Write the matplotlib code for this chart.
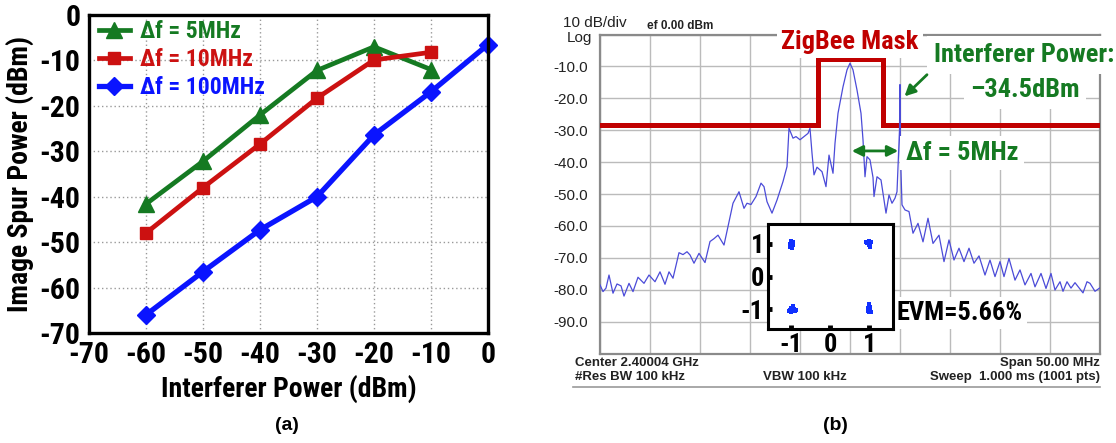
import numpy as np
import matplotlib
matplotlib.use("Agg")
import matplotlib.pyplot as plt
from matplotlib import font_manager

# ---- panel (a) data ----
pin = [-60, -50, -40, -30, -20, -10, 0]
spur_5mhz = [-41.6, -32.2, -22.0, -12.2, -7.0, -12.0]
spur_10mhz = [-48.0, -38.0, -28.4, -18.3, -9.9, -8.2]
spur_100mhz = [-66.0, -56.5, -47.3, -40.0, -26.4, -16.9, -6.5]

# ---- panel (b) data: spectrum trace (MHz offset, dBm) ----
freq_mhz = [-25.0, -24.7, -24.4, -24.1, -23.7, -23.3, -22.9, -22.6, -22.1, -21.7,
            -21.2, -20.6, -20.1, -19.5, -19.0, -18.5, -18.1, -17.7, -17.1, -16.7,
            -16.3, -16.0, -15.6, -15.1, -14.5, -14.0, -13.6, -13.2, -12.6, -12.2,
            -11.7, -11.1, -10.6, -10.3, -9.9, -9.4, -8.9, -8.6, -8.3, -7.8,
            -7.3, -6.7, -6.3, -6.1, -5.7, -5.4, -5.0, -4.6, -4.2, -4.0,
            -3.8, -3.6, -3.3, -2.8, -2.4, -2.1, -1.7, -1.5, -1.2, -0.7,
            -0.3, 0.0, 0.3, 0.7, 1.1, 1.3, 1.5, 1.7, 2.0, 2.3,
            2.4, 2.7, 3.1, 3.6, 3.9, 4.2, 4.5, 4.7, 4.95, 5.0,
            5.05, 5.2, 5.5, 5.9, 6.3, 6.8, 7.3, 7.8, 8.3, 8.9,
            9.4, 9.9, 10.4, 10.9, 11.4, 11.9, 12.4, 12.9, 13.5, 14.0,
            14.5, 15.0, 15.4, 15.9, 16.5, 17.0, 17.5, 18.1, 18.5, 19.1,
            19.6, 20.1, 20.5, 21.0, 21.3, 21.7, 22.1, 22.5, 22.8, 23.3,
            23.7, 24.0, 24.5, 25.0]
level_dbm = [-78.5, -80.6, -79.5, -75.4, -81.1, -78.2, -78.8, -82.0, -78.0, -80.6,
             -76.1, -78.0, -75.4, -77.5, -74.4, -78.3, -74.4, -76.4, -68.4, -69.0,
             -68.1, -69.1, -71.7, -68.6, -71.5, -64.9, -64.0, -62.9, -66.0, -60.2,
             -52.9, -49.3, -54.5, -52.9, -53.3, -50.8, -46.6, -47.7, -52.4, -56.0,
             -51.9, -46.1, -41.4, -29.4, -32.5, -32.0, -33.0, -32.0, -31.0, -29.4,
             -37.2, -44.0, -41.6, -43.0, -47.7, -37.8, -43.5, -34.1, -24.7, -16.4,
             -11.1, -9.0, -11.1, -17.4, -24.7, -33.0, -44.6, -38.3, -39.3, -44.8,
             -50.8, -44.6, -45.6, -56.0, -50.3, -52.9, -51.3, -49.3, -30.0, -15.7,
             -38.0, -53.4, -55.0, -55.5, -62.3, -59.2, -65.0, -57.6, -65.5, -62.9,
             -71.2, -64.4, -70.7, -67.0, -71.2, -67.0, -71.7, -69.4, -75.4, -70.7,
             -75.9, -71.2, -75.9, -70.2, -77.0, -73.8, -78.5, -74.9, -79.1, -74.9,
             -79.6, -74.9, -80.1, -77.5, -80.5, -77.5, -79.5, -77.8, -79.0, -81.0,
             -77.5, -78.0, -80.5, -79.4]
mask_x = [-25, -3.2, -3.2, 3.25, 3.25, 25]
mask_y = [-28.4, -28.4, -7.8, -7.8, -28.4, -28.4]
ytick_labels = ['', '-90.0', '-80.0', '-70.0', '-60.0', '-50.0',
                '-40.0', '-30.0', '-20.0', '-10.0', '']

# QPSK constellation points (I, Q)
const_i = [-1.02, -0.98, -1.0, -1.03, -0.97, -1.01, -0.99, -1.04, -0.96, -1.0,
           0.97, 1.0, 1.03, 0.95, 1.01, 0.99, 1.04, 0.93, 1.0, 1.02,
           -1.03, -1.0, -0.97, -0.94, -0.9, -1.01, -0.98, -0.95, -1.05, -0.88,
           0.99, 1.01, 0.97, 1.03, 1.0, 0.98, 1.02, 1.0, 0.96, 1.04]
const_q = [1.06, 1.02, 0.95, 0.9, 0.98, 1.1, 0.88, 1.0, 1.07, 1.04,
           1.04, 1.08, 1.0, 1.02, 0.94, 1.1, 1.06, 1.05, 0.98, 0.92,
           -1.02, -0.95, -0.9, -1.0, -1.04, -1.08, -1.05, -0.98, -1.06, -1.03,
           -1.08, -1.02, -0.95, -1.0, -0.9, -1.05, -0.93, -0.85, -1.04, -1.07]

W, H = 1116, 443
names = {f.name for f in font_manager.fontManager.ttflist}
bold_font = 'Liberation Sans'
k = 0.86
for cand in ['Roboto Condensed', 'Archivo Narrow', 'PT Sans Narrow']:
    if cand in names:
        bold_font = cand
        k = 1.0
        break
plain = ['Liberation Sans', 'DejaVu Sans']
plt.rcParams['font.family'] = [bold_font, 'DejaVu Sans']
plt.rcParams['axes.unicode_minus'] = False

green = '#157a22'
red = '#cc1111'
blue = '#0a14ff'


def fpos(x, y):
    return x / W, 1 - y / H


fig = plt.figure(figsize=(W / 100, H / 100), dpi=100)

# ================= panel (a) =================
ax = fig.add_axes([89 / W, 1 - 333 / H, 399 / W, 318 / H])
ax.plot(pin[:6], spur_5mhz, color=green, lw=3.4, marker='^', ms=11, label='\u0394f = 5MHz')
ax.plot(pin[:6], spur_10mhz, color=red, lw=3.4, marker='s', ms=9, label='\u0394f = 10MHz')
ax.plot(pin, spur_100mhz, color=blue, lw=3.8, marker='D', ms=9, label='\u0394f = 100MHz', clip_on=False)
ax.set_xlim(-70, 0)
ax.set_ylim(-70, 0)
ax.set_xticks(range(-70, 1, 10))
ax.set_yticks(range(-70, 1, 10))
ax.grid(True, color='#999999', ls=(0, (1, 2)), lw=1)
ax.tick_params(length=0, labelsize=21.5 * k, pad=6)
for t in ax.get_xticklabels() + ax.get_yticklabels():
    t.set_fontweight('bold')
for s in ax.spines.values():
    s.set_linewidth(2.4)
ax.set_xlabel('Interferer Power (dBm)', fontsize=20 * k, fontweight='bold', labelpad=4)
ax.set_ylabel('Image Spur Power (dBm)', fontsize=20 * k, fontweight='bold', labelpad=4)
leg = ax.legend(loc='upper left', bbox_to_anchor=(0.025, 0.985), frameon=False,
                handlelength=1.3, handletextpad=0.45, labelspacing=0.22,
                borderaxespad=0, borderpad=0,
                labelcolor='linecolor', prop={'weight': 'bold', 'size': 17 * k})

fig.text(*fpos(287, 426), '(a)', fontsize=14, fontweight='bold', ha='center', va='center',
         family=plain)

# ================= panel (b) =================
bx = fig.add_axes([600 / W, 1 - 353.5 / H, 500 / W, 319 / H])
bx.set_xlim(-25, 25)
bx.set_ylim(-100, 0)
bx.set_xticks(range(-25, 26, 5))
bx.set_xticklabels([])
bx.set_yticks(range(-100, 1, 10))
bx.set_yticklabels(ytick_labels, family=plain, fontsize=11, color='#222222')
bx.tick_params(length=0, pad=9)
bx.grid(True, color='#bbbbbb', lw=1)
for s in bx.spines.values():
    s.set_color('#8a8a8a')
    s.set_linewidth(1.6)

bx.plot(mask_x, mask_y, color='#c00000', lw=3.6, zorder=3, solid_joinstyle='miter')
bx.plot(freq_mhz, level_dbm, color='#4b4bd8', lw=0.9, zorder=4)

big = 19 * k
bx.text(0, -2.5, 'ZigBee Mask', color='#c00000', fontsize=big, fontweight='bold',
        ha='center', va='center', clip_on=False, zorder=5,
        bbox=dict(boxstyle='square,pad=0.15', fc='white', ec='none'))
bx.text(17.4, -6.4, 'Interferer Power:', color=green, fontsize=big, fontweight='bold',
        ha='center', va='center', clip_on=False, zorder=5,
        bbox=dict(boxstyle='square,pad=0.25', fc='white', ec='none'))
bx.text(17.5, -17.4, '\u201334.5dBm', color=green, fontsize=big, fontweight='bold',
        ha='center', va='center', clip_on=False, zorder=5,
        bbox=dict(boxstyle='square,pad=0.25', fc='white', ec='none'))
bx.annotate('', xy=(5.25, -20.0), xytext=(7.9, -12.0),
            arrowprops=dict(arrowstyle='-|>', color=green, lw=2, mutation_scale=16), zorder=6)
bx.annotate('', xy=(-0.1, -36.5), xytext=(5.1, -36.5),
            arrowprops=dict(arrowstyle='<|-|>', color=green, lw=2, mutation_scale=16), zorder=6)
bx.text(11.2, -37.2, '\u0394f = 5MHz', color=green, fontsize=big, fontweight='bold',
        ha='center', va='center', zorder=5,
        bbox=dict(boxstyle='square,pad=0.2', fc='white', ec='none'))
bx.text(11.0, -87.3, 'EVM=5.66%', color='black', fontsize=big, fontweight='bold',
        ha='center', va='center', zorder=5,
        bbox=dict(boxstyle='square,pad=0.15', fc='white', ec='none'))

# header and footer texts of the analyzer screen
fig.text(*fpos(563, 23), '10 dB/div', family=plain, fontsize=11, color='#222222', va='center')
fig.text(*fpos(567, 38), 'Log', family=plain, fontsize=11, color='#222222', va='center')
fig.text(*fpos(647, 26), 'ef 0.00 dBm', family=plain, fontsize=8.5, fontweight='bold',
         color='#222222', va='center')
fig.text(*fpos(575, 363), 'Center 2.40004 GHz', family=plain, fontsize=9.5, fontweight='bold',
         color='#222222', va='center')
fig.text(*fpos(575, 377), '#Res BW 100 kHz', family=plain, fontsize=9.5, fontweight='bold',
         color='#222222', va='center')
fig.text(*fpos(805, 377), 'VBW 100 kHz', family=plain, fontsize=9.5, fontweight='bold',
         color='#222222', va='center', ha='center')
fig.text(*fpos(1100, 363), 'Span 50.00 MHz', family=plain, fontsize=9.5, fontweight='bold',
         color='#222222', va='center', ha='right')
fig.text(*fpos(1100, 377), 'Sweep  1.000 ms (1001 pts)', family=plain, fontsize=9.5,
         fontweight='bold', color='#222222', va='center', ha='right')
fig.add_artist(plt.Line2D([573 / W, 1100 / W], [1 - 387 / H, 1 - 387 / H],
                          color='#999999', lw=1.2))

# constellation inset
cx = fig.add_axes([768 / W, 1 - 329 / H, 124.5 / W, 104.7 / H])
cx.scatter(const_i, const_q, s=6, marker='s', color='#1030ff', lw=0)
cx.set_xlim(-1.6, 1.6)
cx.set_ylim(-1.6, 1.6)
cx.set_xticks([-1, 0, 1])
cx.set_yticks([-1, 0, 1])
cx.tick_params(direction='in', length=3, width=3.5, labelsize=19 * k, pad=3)
for t in cx.get_xticklabels() + cx.get_yticklabels():
    t.set_fontweight('bold')
for s in cx.spines.values():
    s.set_linewidth(2.2)

fig.text(*fpos(835, 426), '(b)', fontsize=14, fontweight='bold', ha='center', va='center',
         family=plain)

fig.savefig('out.png', dpi=100)
